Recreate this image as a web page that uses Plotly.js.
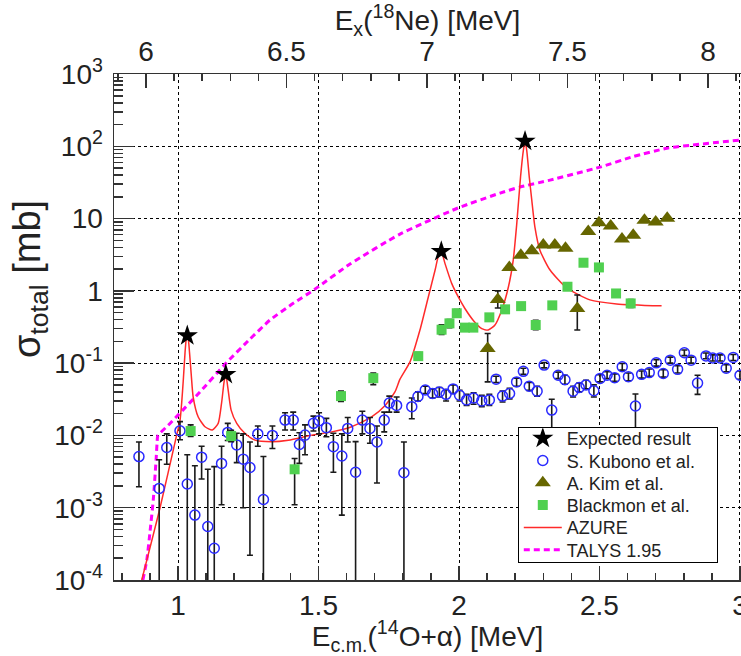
<!DOCTYPE html>
<html><head><meta charset="utf-8">
<script src="https://cdn.plot.ly/plotly-3.0.1.min.js"></script>
<style>html,body{margin:0;padding:0;background:#fff}</style>
</head><body><div id="chart" style="width:741px;height:656px"></div>
<script>
// Q-value linking E_c.m.(14O+alpha) to E_x(18Ne)
const QVALUE = 5.114;

// Expected result (stars)
const expX = [1.033, 1.170, 1.937, 2.235];
const expY = [0.24, 0.07, 3.5, 118];

// S. Kubono et al.
const kuboX = [0.861,0.933,0.960,1.007,1.033,1.060,1.084,1.106,1.129,1.155,1.177,1.209,1.232,1.256,1.284,1.304,1.336,1.381,1.410,1.432,1.452,1.482,1.502,1.528,1.553,1.583,1.604,1.632,1.656,1.683,1.708,1.734,1.752,1.778,1.804,1.832,1.854,1.880,1.906,1.930,1.954,1.979,2.002,2.027,2.052,2.081,2.108,2.132,2.155,2.180,2.205,2.229,2.250,2.278,2.303,2.330,2.353,2.377,2.406,2.428,2.452,2.480,2.502,2.527,2.554,2.581,2.603,2.628,2.650,2.677,2.702,2.727,2.752,2.778,2.802,2.826,2.849,2.879,2.903,2.929,2.951,2.976,3.000];
const kuboY = [5.1e-3,1.85e-3,6.8e-3,0.0116,2.13e-3,7.9e-4,5.0e-3,5.5e-4,2.75e-4,4.1e-3,0.011,7.4e-3,4.7e-3,3.6e-3,0.0105,1.3e-3,0.0100,0.0163,0.0163,7.5e-3,0.0101,0.0147,0.016,0.0128,7.0e-3,5.2e-3,0.0125,3.1e-3,0.0163,0.0125,8.1e-3,0.0163,0.028,0.026,3.05e-3,0.025,0.0345,0.0425,0.038,0.040,0.037,0.044,0.036,0.031,0.033,0.030,0.031,0.060,0.035,0.038,0.055,0.077,0.048,0.041,0.094,0.0224,0.068,0.059,0.041,0.046,0.050,0.0415,0.0615,0.068,0.063,0.089,0.065,0.0255,0.070,0.074,0.101,0.072,0.110,0.082,0.139,0.110,0.053,0.126,0.118,0.118,0.085,0.120,0.068];
const kuboHi = [8.1e-3,4.6e-3,0.0105,0.0155,5.4e-3,3.8e-3,7.1e-3,3.4e-3,3.7e-3,7.1e-3,0.0147,0.0107,0.0105,8.1e-3,0.0135,5.1e-3,0.0135,0.0206,0.021,0.0109,0.014,0.0185,0.0206,0.0172,0.0107,0.0105,0.0177,8.2e-3,0.0216,0.0177,0.0135,0.021,0.035,0.034,8.1e-3,0.033,0.040,0.048,0.044,0.046,0.043,0.050,0.042,0.037,0.039,0.036,0.037,0.066,0.041,0.045,0.062,0.085,0.054,0.048,0.102,0.0316,0.075,0.068,0.048,0.053,0.058,0.050,0.069,0.076,0.071,0.099,0.073,0.0375,0.078,0.083,0.112,0.081,0.121,0.092,0.152,0.121,0.068,0.138,0.130,0.130,0.095,0.132,0.078];
const kuboLo = [1.95e-3,5e-5,4.0e-3,8.7e-3,5e-5,5e-5,2.5e-3,5e-5,5e-5,1.1e-3,8.5e-3,4.2e-3,1e-3,2.2e-4,7.1e-3,5e-5,6.6e-3,0.0119,0.0119,4.1e-3,5.4e-3,0.0115,0.0105,9.6e-3,3.1e-3,7.9e-4,8.1e-3,5e-5,0.0105,7.8e-3,2.2e-3,0.0112,0.021,0.021,5e-5,0.017,0.030,0.038,0.033,0.034,0.030,0.038,0.030,0.026,0.027,0.025,0.026,0.054,0.029,0.032,0.048,0.070,0.042,0.035,0.086,0.005,0.061,0.051,0.034,0.040,0.044,0.034,0.055,0.061,0.056,0.080,0.057,0.008,0.062,0.066,0.091,0.064,0.100,0.073,0.127,0.100,0.037,0.115,0.107,0.107,0.076,0.109,0.060];

// A. Kim et al.
const kimX = [2.102,2.138,2.179,2.220,2.259,2.300,2.341,2.379,2.421,2.460,2.498,2.540,2.580,2.620,2.660,2.700,2.741];
const kimY = [0.16,0.76,2.1,3.1,3.6,4.3,4.3,3.87,0.57,6.6,8.75,7.9,5.2,5.9,9.5,9.0,10.1];
const kimHi = [0.257,1.0,2.1,3.1,3.6,4.3,4.3,3.87,0.875,6.6,8.75,7.9,5.2,5.9,9.5,9.0,10.1];
const kimLo = [0.055,0.58,2.1,3.1,3.6,4.3,4.3,3.87,0.287,6.6,8.75,7.9,5.2,5.9,9.5,9.0,10.1];

// Blackmon et al.
const bmX = [1.045,1.189,1.415,1.580,1.695,1.855,1.938,1.966,1.992,2.021,2.051,2.108,2.164,2.221,2.273,2.332,2.386,2.443,2.498,2.559,2.611];
const bmY = [0.0115,0.0098,0.0034,0.035,0.062,0.125,0.29,0.355,0.49,0.31,0.31,0.43,0.555,0.615,0.337,0.63,1.14,2.45,2.11,0.92,0.67];
const bmHi = [0.014,0.0118,0.0048,0.041,0.073,0.14,0.34,0.40,0.55,0.34,0.34,0.47,0.62,0.68,0.39,0.69,1.25,2.7,2.35,1.03,0.76];
const bmLo = [0.0097,0.0082,0.0011,0.0295,0.0505,0.11,0.25,0.31,0.44,0.28,0.28,0.39,0.50,0.56,0.29,0.57,1.03,2.2,1.9,0.82,0.59];

// AZURE fit
const azX = [0.871,0.936,0.995,1.007,1.013,1.019,1.025,1.029,1.033,1.037,1.041,1.047,1.054,1.072,1.096,1.122,1.143,1.155,1.164,1.170,1.177,1.189,1.209,1.238,1.274,1.333,1.393,1.476,1.547,1.618,1.689,1.737,1.772,1.790,1.826,1.861,1.891,1.915,1.926,1.937,1.950,1.974,1.997,2.021,2.051,2.081,2.104,2.128,2.152,2.176,2.193,2.205,2.219,2.229,2.235,2.241,2.250,2.259,2.270,2.288,2.324,2.383,2.466,2.561,2.721];
const azY = [1e-4,1e-3,0.01,0.016,0.028,0.06,0.14,0.21,0.24,0.21,0.14,0.07,0.034,0.018,0.0132,0.0119,0.0147,0.028,0.055,0.07,0.047,0.0224,0.0147,0.0107,0.0086,0.0082,0.0086,0.0101,0.0112,0.0132,0.018,0.026,0.040,0.060,0.105,0.287,0.83,1.94,2.96,3.5,2.4,1.27,0.83,0.57,0.39,0.30,0.287,0.337,0.54,1.14,2.67,8,37.8,88,118,88,37.8,18,7.7,3.66,1.94,1.1,0.75,0.66,0.62];

// TALYS 1.95
const taX = [0.875,0.889,0.900,0.912,0.922,0.927,0.929,0.965,1.0,1.078,1.171,1.256,1.327,1.406,1.488,1.612,1.79,1.996,2.146,2.217,2.324,2.502,2.62,2.74,3.0];
const taY = [1e-4,1.9e-4,4.5e-4,1.28e-3,4.6e-3,9.5e-3,0.0101,0.0138,0.0191,0.0398,0.1,0.215,0.394,0.656,1.06,2.35,6.1,14,22.5,27.3,34,51.5,72,94,122];

// Tick labels
const yTickVals = [1e-4,1e-3,1e-2,1e-1,1,10,100,1000];
const yTickText = ['10<sup>-4</sup>','10<sup>-3</sup>','10<sup>-2</sup>','10<sup>-1</sup>','1','10','10<sup>2</sup>','10<sup>3</sup>'];

const FONT = 'Liberation Sans, Arial, sans-serif';
const minorY = [];
for (let k = -4; k < 3; k++) for (let m = 2; m <= 9; m++) minorY.push(m * Math.pow(10, k));

const up = (hi, y) => hi.map((h, i) => h - y[i]);
const dn = (lo, y) => lo.map((l, i) => y[i] - l);
const ebar = {color: '#1a1a1a', thickness: 1.6, width: 3};

const traces = [
  {x: taX, y: taY, mode: 'lines', name: 'TALYS 1.95', legendrank: 6,
   line: {color: '#ff00ff', width: 3, dash: '6px,4px', shape: 'spline', smoothing: 0.5}},
  {x: azX, y: azY, mode: 'lines', name: 'AZURE', legendrank: 5,
   line: {color: '#ff2a2a', width: 1.5, shape: 'spline', smoothing: 0.6}},
  {x: kuboX, y: kuboY, mode: 'markers', name: 'S. Kubono et al.', legendrank: 2,
   marker: {symbol: 'circle-open', size: 10, color: '#2a2aff', line: {width: 1.5}},
   error_y: Object.assign({type: 'data', symmetric: false, array: up(kuboHi, kuboY), arrayminus: dn(kuboLo, kuboY)}, ebar)},
  {x: bmX, y: bmY, mode: 'markers', name: 'Blackmon et al.', legendrank: 4,
   marker: {symbol: 'square', size: 10, color: '#50d050'},
   error_y: Object.assign({type: 'data', symmetric: false, array: up(bmHi, bmY), arrayminus: dn(bmLo, bmY)}, ebar)},
  {x: kimX, y: kimY, mode: 'markers', name: 'A. Kim et al.', legendrank: 3,
   marker: {symbol: 'triangle-up', size: 14, color: '#666600'},
   error_y: Object.assign({type: 'data', symmetric: false, array: up(kimHi, kimY), arrayminus: dn(kimLo, kimY)}, ebar)},
  {x: expX, y: expY, mode: 'markers', name: 'Expected result', legendrank: 1,
   marker: {symbol: 'star', size: 16, color: '#000000'}},
  {x: expX.map(e => e + QVALUE), y: expY, xaxis: 'x2', mode: 'markers', showlegend: false,
   hoverinfo: 'skip', marker: {opacity: 0}}
];

const axCommon = {
  ticks: 'inside', tickcolor: '#333', tickwidth: 1.5, showline: true, linecolor: '#333', linewidth: 1.5,
  zeroline: false, tickfont: {family: FONT, size: 28, color: '#222'}, ticklabeloverflow: 'allow'
};

const layout = {
  width: 741, height: 656,
  margin: {l: 114, r: 0, t: 74, b: 76, pad: 0},
  paper_bgcolor: '#fff', plot_bgcolor: '#fff',
  font: {family: FONT, color: '#222'},
  showlegend: true,
  legend: {x: 0.644, y: 0.302, xanchor: 'left', yanchor: 'top', bgcolor: '#fff',
    bordercolor: '#000', borderwidth: 1, itemwidth: 38,
    font: {family: FONT, size: 18, color: '#222'}, tracegroupgap: 0},
  xaxis: Object.assign({}, axCommon, {
    range: [0.7722, 3.0036], tickmode: 'linear', tick0: 0, dtick: 0.5, ticklen: 14,
    minor: {dtick: 0.1, tick0: 0, ticks: 'inside', ticklen: 7, tickwidth: 1.5, tickcolor: '#333', showgrid: false},
    showgrid: true, gridcolor: '#000', griddash: 'dot', gridwidth: 1,
    title: {text: 'E<sub>c.m.</sub>(<sup>14</sup>O+α) [MeV]', font: {family: FONT, size: 28, color: '#222'}, standoff: 4}
  }),
  xaxis2: Object.assign({}, axCommon, {
    overlaying: 'x', side: 'top', anchor: 'y',
    range: [0.7722 + QVALUE, 3.0036 + QVALUE], tickmode: 'linear', tick0: 0, dtick: 0.5, ticklen: 14,
    minor: {dtick: 0.1, tick0: 0, ticks: 'inside', ticklen: 7, tickwidth: 1.5, tickcolor: '#333', showgrid: false},
    showgrid: false,
    title: {text: 'E<sub>x</sub>(<sup>18</sup>Ne) [MeV]', font: {family: FONT, size: 28, color: '#222'}, standoff: 4}
  }),
  yaxis: Object.assign({}, axCommon, {
    type: 'log', range: [-4, 3], tickmode: 'array', tickvals: yTickVals, ticktext: yTickText, ticklen: 20,
    minor: {tickmode: 'array', tickvals: minorY, ticks: 'inside', ticklen: 9, tickwidth: 1.5, tickcolor: '#333', showgrid: false},
    showgrid: true, gridcolor: '#000', griddash: 'dot', gridwidth: 1, ticklabelstandoff: 4,
    title: {text: 'σ<sub>total</sub> [mb]', font: {family: FONT, size: 38, color: '#222'}, standoff: 2}
  })
};

Plotly.newPlot('chart', traces, layout, {displayModeBar: false, staticPlot: true}).then(gd => {
  // lay out legend rows with the reference spacing
  const leg = gd.querySelector('.legend');
  if (leg) {
    const items = Array.from(leg.querySelectorAll('g.traces'));
    const parse = t => { const m = /translate\(\s*([-\d.e]+)[\s,]+([-\d.e]+)\s*\)/.exec(t || ''); return m ? [parseFloat(m[1]), parseFloat(m[2])] : null; };
    const pos = items.map(it => parse(it.getAttribute('transform')));
    if (pos.length && pos.every(p => p)) {
      const step = 22.3, first = 11;
      items.forEach((it, i) => it.setAttribute('transform', 'translate(' + pos[i][0] + ',' + (first + i * step) + ')'));
      const bg = leg.querySelector('rect.bg');
      if (bg) {
        bg.setAttribute('height', first + (items.length - 1) * step + 12);
        bg.setAttribute('width', parseFloat(bg.getAttribute('width')) + 16);
      }
    }
  }
  // ROOT-style placement of the y title (shifted toward the top of the axis)
  const yt = gd.querySelector('.g-ytitle');
  if (yt) yt.setAttribute('transform', 'translate(0,-48)');
});
</script>
</body></html>
